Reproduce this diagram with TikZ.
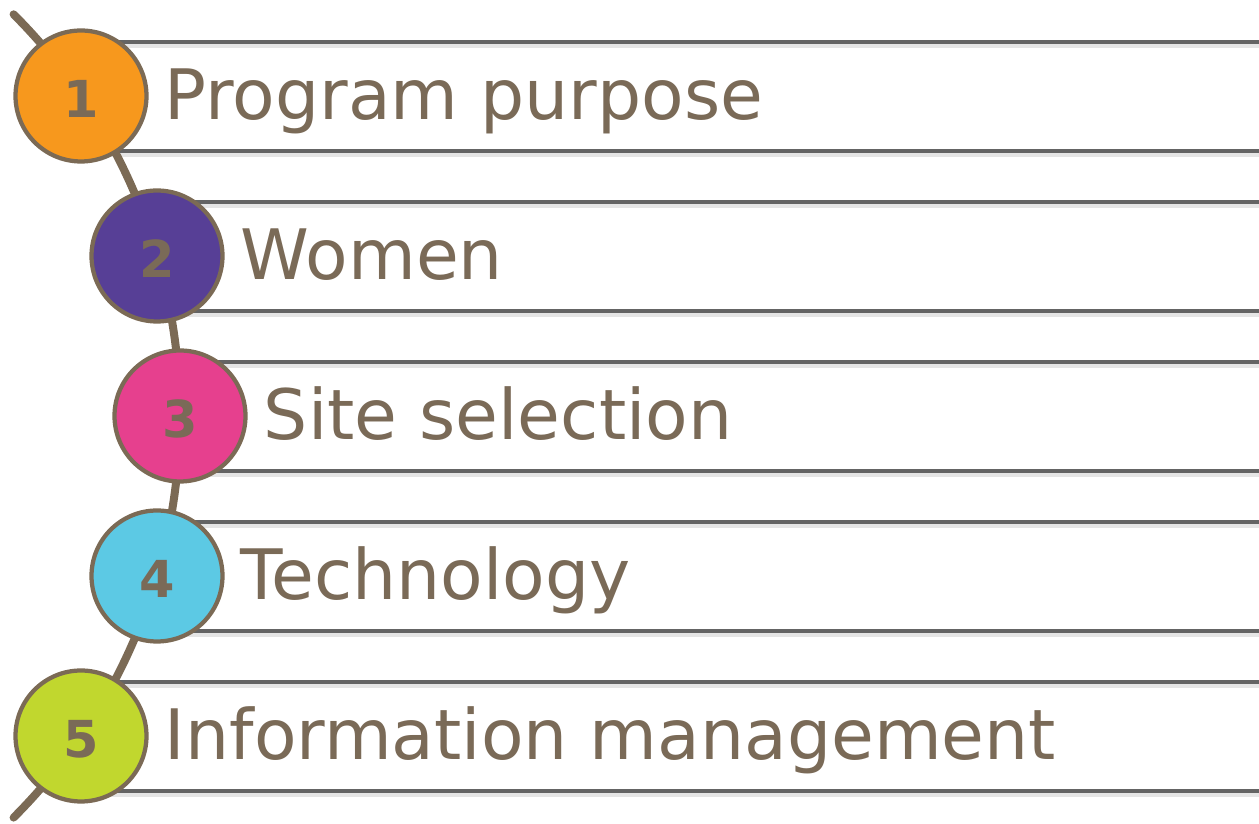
\documentclass[tikz,border=0pt]{standalone}
\usepackage{fontspec}
\setmainfont{DejaVu Sans}
\usetikzlibrary{calc}
\definecolor{spinebrown}{HTML}{7B6A55}
\definecolor{textbrown}{HTML}{7A6A57}
\definecolor{bargray}{HTML}{646464}
\definecolor{numorange}{HTML}{F7981D}
\definecolor{numpurple}{HTML}{573F96}
\definecolor{numpink}{HTML}{E6408E}
\definecolor{numblue}{HTML}{5CC9E4}
\definecolor{numlime}{HTML}{C1D72E}
\begin{document}
\begin{tikzpicture}[x=0.02cm,y=0.02cm, line cap=round,
    barline/.style={bargray, line width=1.8pt, line cap=butt},
    barshade/.style={black!10, line width=3pt, line cap=butt},
    spine/.style={spinebrown, line width=0.16cm},
    num/.style={circle, draw=spinebrown, line width=0.085cm, minimum size=2.62cm, inner sep=0pt,
        text height=24.5pt, text depth=0pt,
        text=textbrown, font=\fontsize{29}{29}\selectfont\bfseries},
    item/.style={anchor=base west, inner sep=0pt, text=textbrown, font=\fontsize{39.6}{45}\selectfont}]
  \useasboundingbox (0,0) rectangle (1259,824);
  % bars
  \foreach \i/\x in {1/81, 2/157, 3/180, 4/157, 5/81}{
    \pgfmathsetmacro\yt{782-160*(\i-1)}
    \pgfmathsetmacro\yb{673-160*(\i-1)}
    \draw[barshade] (\x,\yt-3)--(1259,\yt-3) (\x,\yb-3)--(1259,\yb-3);
    \draw[barline] (\x,\yt)--(1259,\yt) (\x,\yb)--(1259,\yb);
  }
  % spine
  \coordinate (s0) at (13.6,6.4);
  \draw[spine] (s0) arc[start angle=-45, end angle=45, radius=568];
  % numbers
  \node[num, fill=numorange] (c1) at (81,728) {1};
  \node[num, fill=numpurple] (c2) at (157,568) {2};
  \node[num, fill=numpink] (c3) at (180,408) {3};
  \node[num, fill=numblue] (c4) at (157,248) {4};
  \node[num, fill=numlime] (c5) at (81,88) {5};
  % labels
  \foreach \c/\txt in {c1/Program purpose, c2/Women, c3/Site selection, c4/Technology, c5/Information management}
    \node[item] (t\c) at ($(\c.east)+(16,-24)$) {\txt};
\end{tikzpicture}
\end{document}
